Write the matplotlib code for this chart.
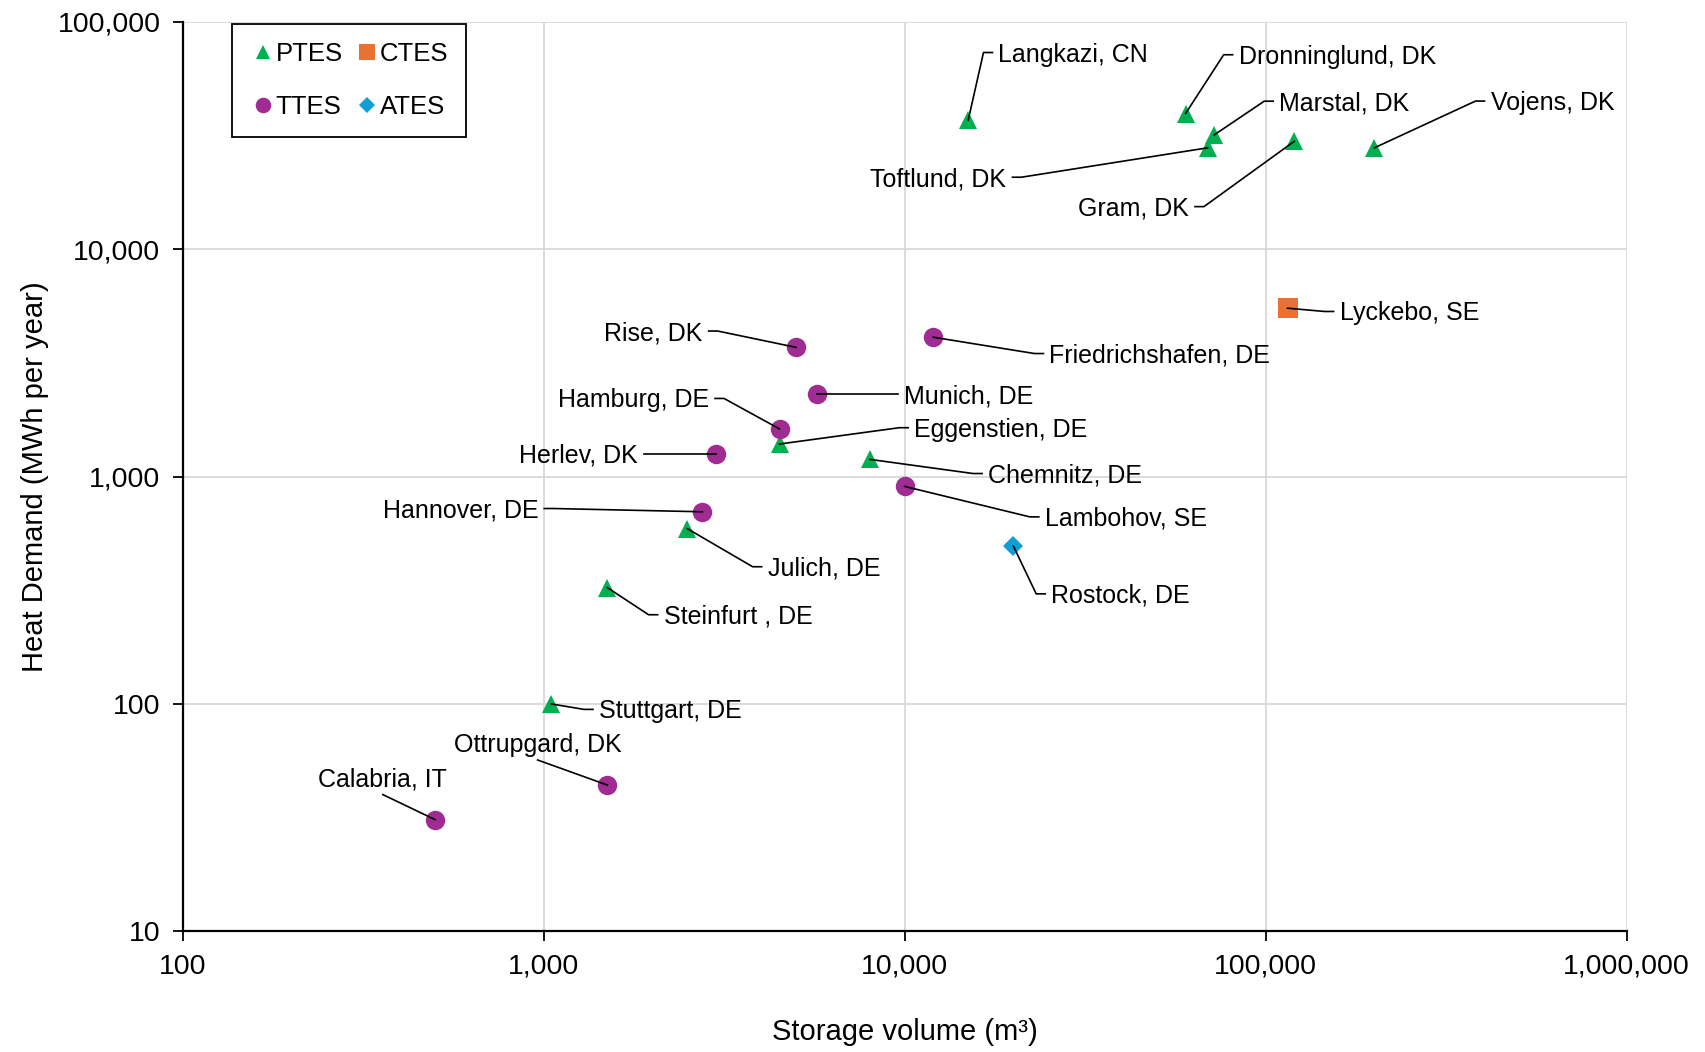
import matplotlib.pyplot as plt
from matplotlib.lines import Line2D
from matplotlib.transforms import IdentityTransform
from matplotlib.ticker import FuncFormatter, LogLocator, NullLocator

plt.rcParams['font.family'] = ['Liberation Sans', 'DejaVu Sans']

# ----------------------------------------------------------------------
# data
# ----------------------------------------------------------------------
sites = ["Langkazi, CN", "Dronninglund, DK", "Marstal, DK", "Vojens, DK",
         "Toftlund, DK", "Gram, DK", "Lyckebo, SE", "Friedrichshafen, DE",
         "Rise, DK", "Munich, DE", "Hamburg, DE", "Eggenstien, DE",
         "Herlev, DK", "Chemnitz, DE", "Lambohov, SE", "Hannover, DE",
         "Julich, DE", "Rostock, DE", "Steinfurt , DE", "Stuttgart, DE",
         "Ottrupgard, DK", "Calabria, IT"]
volume = [15000, 60000, 72000, 200000, 69000, 120000, 115000, 12000,
          5000, 5700, 4500, 4500, 3000, 8000, 10000, 2750,
          2500, 20000, 1500, 1050, 1500, 500]
demand = [37000, 39500, 31800, 27900, 27900, 29800, 5500, 4100,
          3700, 2300, 1620, 1390, 1260, 1190, 905, 700,
          590, 495, 325, 100, 44, 31]
storage_type = ["PTES", "PTES", "PTES", "PTES", "PTES", "PTES", "CTES", "TTES",
                "TTES", "TTES", "TTES", "PTES", "TTES", "PTES", "TTES", "TTES",
                "PTES", "ATES", "PTES", "PTES", "TTES", "TTES"]

types = ["PTES", "TTES", "CTES", "ATES"]
colors = {"PTES": "#00B050", "CTES": "#E97132", "TTES": "#A02B93", "ATES": "#0F9ED5"}
markers = {"PTES": "^", "CTES": "s", "TTES": "o", "ATES": "D"}
msizes = {"PTES": 13, "CTES": 14, "TTES": 14, "ATES": 10}

# callout placement: elbow offset from point (reference px, y down) and text side
callouts = [(14, -62, "R"), (35, -54, "R"), (46, -31, "R"), (93, -43, "R"),
            (-171, 27, "L"), (-83, 60, "L"), (34, 3, "R"), (93, 15, "R"),
            (-72, -15, "L"), (67, 0, "R"), (-51, -28, "L"), (110, -15, "R"),
            (-58, 0, "L"), (95, 13, "R"), (115, 28, "R"), (-137, -3, "L"),
            (60, 35, "R"), (21, 44, "R"), (38, 25, "R"), (30, 5, "R"),
            (-64, -23, "T"), (-48, -23, "T")]

# ----------------------------------------------------------------------
# figure
# ----------------------------------------------------------------------
fig = plt.figure(figsize=(17.06, 10.52), dpi=100)
ax = fig.add_axes([0.1071, 0.1147, 0.8464, 0.8646])

for t in types:
    idx = [i for i, s in enumerate(storage_type) if s == t]
    ax.plot([volume[i] for i in idx], [demand[i] for i in idx],
            linestyle="none", marker=markers[t], color=colors[t],
            markersize=msizes[t], markeredgewidth=0, label=t, zorder=3)

ax.set_xscale("log")
ax.set_yscale("log")
ax.set_xlim(100, 1e6)
ax.set_ylim(10, 1e5)
ax.xaxis.set_major_locator(LogLocator(base=10, numticks=10))
ax.yaxis.set_major_locator(LogLocator(base=10, numticks=10))
ax.xaxis.set_minor_locator(NullLocator())
ax.yaxis.set_minor_locator(NullLocator())
fmt = FuncFormatter(lambda v, p: f"{v:,.0f}")
ax.xaxis.set_major_formatter(fmt)
ax.yaxis.set_major_formatter(fmt)
ax.tick_params(labelsize=20.5, length=7, width=1.3, direction="out")
ax.tick_params(axis="y", pad=9)
ax.tick_params(axis="x", pad=9)

ax.grid(True, color="#D9D9D9", lw=1.3, zorder=0)
ax.set_axisbelow(True)
for s in ["top", "right"]:
    ax.spines[s].set_visible(False)
for s in ["left", "bottom"]:
    ax.spines[s].set_linewidth(1.6)

ax.set_xlabel("Storage volume (m³)", fontsize=21, labelpad=28)
ax.set_ylabel("Heat Demand (MWh per year)", fontsize=21, labelpad=6)

leg = ax.legend(ncol=2, loc="upper left", bbox_to_anchor=(0.034, 0.998),
                borderaxespad=0, fontsize=18.5, frameon=True, fancybox=False,
                edgecolor="black", framealpha=1, labelspacing=1.15,
                handletextpad=0.0, columnspacing=0.45, handlelength=1.0,
                borderpad=0.7, markerscale=0.8)
leg.get_frame().set_linewidth(1.3)

# callouts drawn in pixel space so the elbow/tail look like Excel data callouts
S = 1.088
TAIL = 9
GAP = 6
FS = 18
for i, (dx, dy, side) in enumerate(callouts):
    px, py = ax.transData.transform((volume[i], demand[i]))
    ex, ey = px + dx * S, py - dy * S
    if side == "R":
        tx = ex + TAIL
        xs, ys = [px, ex, tx], [py, ey, ey]
        ax.text(tx + GAP, ey - 2, sites[i], transform=IdentityTransform(),
                ha="left", va="center", fontsize=FS)
    elif side == "L":
        tx = ex - TAIL
        xs, ys = [px, ex, tx], [py, ey, ey]
        ax.text(tx - GAP, ey - 2, sites[i], transform=IdentityTransform(),
                ha="right", va="center", fontsize=FS)
    else:
        xs, ys = [px, ex], [py, ey]
        ax.text(ex, ey + 3, sites[i], transform=IdentityTransform(),
                ha="center", va="bottom", fontsize=FS)
    ax.add_line(Line2D(xs, ys, transform=IdentityTransform(), color="black",
                       lw=1.2, zorder=4, clip_on=False))

fig.savefig("out.png", dpi=100)
